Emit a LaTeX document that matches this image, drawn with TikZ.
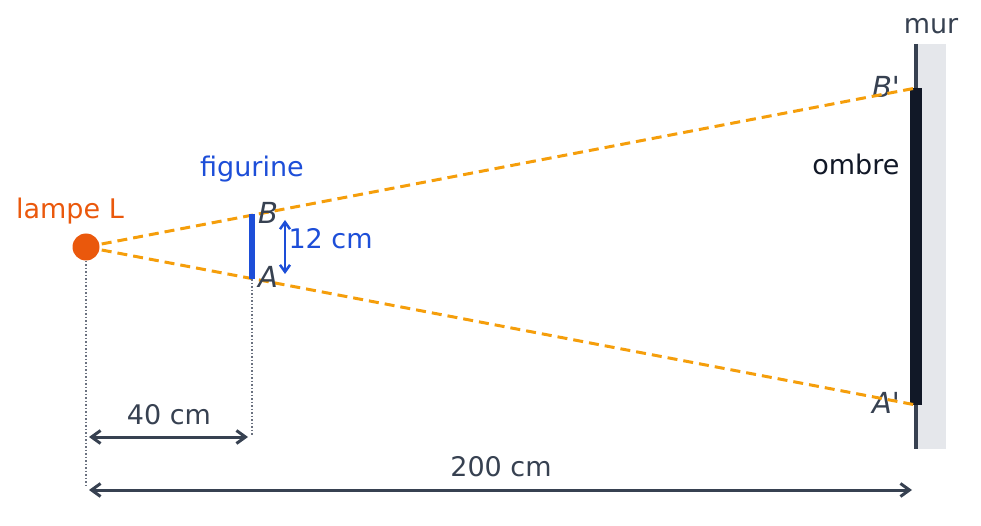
\documentclass[tikz,border=0pt]{standalone}
\usepackage{fontspec}
\setmainfont{DejaVu Sans}
\usetikzlibrary{arrows.meta,positioning}
\definecolor{lampcol}{HTML}{EA580C}
\definecolor{raycol}{HTML}{F59E0B}
\definecolor{figcol}{HTML}{1D4ED8}
\definecolor{inkcol}{HTML}{374151}
\definecolor{ombrecol}{HTML}{111827}
\definecolor{wallbg}{HTML}{E5E7EB}
\definecolor{dotcol}{HTML}{6B7280}
\tikzset{every node/.append style={font=\fontsize{27}{32}\selectfont}}
\tikzset{ptlab/.style={inkcol,font=\fontsize{29}{34}\selectfont\itshape}}
\tikzset{ray/.style={raycol,line width=3,dash pattern=on 10pt off 6pt}}
\tikzset{dimline/.style={inkcol,line width=3,{Straight Barb[length=9pt,width=13pt,line width=3pt]}-{Straight Barb[length=9pt,width=13pt,line width=3pt]}}}
\tikzset{guide/.style={dotcol,line width=1.2,dash pattern=on 1.5pt off 2pt}}

\begin{document}
\begin{tikzpicture}[x=1pt,y=-1pt]
        \useasboundingbox (0,0) rectangle (981,526);

        % mur
        \fill [wallbg] (918,44) rectangle (946,449);
        \coordinate (murtop) at (916,44);
        \coordinate (murbot) at (916,449);
        \draw [inkcol,line width=4] (murtop) -- (murbot);
        \node [inkcol] (mur) at (931,26) {mur};

        % ombre
        \coordinate (Bp) at (916,88);
        \coordinate (Ap) at (916,405);
        \fill [ombrecol] (910,88) rectangle (922,405);
        \node [ombrecol,anchor=east] (ombre) at (903,164) {ombre};
        \node [ptlab] (Bplab) at (886,87) {B\textquotesingle};
        \node [ptlab] (Aplab) at (886,403) {A\textquotesingle};

        % rayons
        \coordinate (L) at (86,247);
        \draw [ray] (L) -- (Bp);
        \draw [ray] (L) -- (Ap);

        % lampe
        \node [circle,fill=lampcol,minimum size=27,inner sep=0] (lamp) at (L) {};
        \node [lampcol] (lamplab) at (70,211) {lampe L};

        % figurine
        \coordinate (B) at (252,214);
        \coordinate (A) at (252,279);
        \draw [figcol,line width=6] (B) -- (A);
        \node [figcol] (figlab) at (252,169) {figurine};
        \node [ptlab] (Blab) at (268,213) {B};
        \node [ptlab] (Alab) at (268,277) {A};
        \coordinate (htop) at (285,220);
        \coordinate (hbot) at (285,274);
        \draw [figcol,line width=2.5,{Straight Barb[length=7pt,width=10pt,line width=2.5pt]}-{Straight Barb[length=7pt,width=10pt,line width=2.5pt]}] (htop) -- (hbot);
        \node [figcol,anchor=west] (hlab) at (285,239) {12 cm};

        % guides
        \coordinate (Lfoot) at (86,487);
        \coordinate (Afoot) at (252,435);
        \draw [guide] (lamp.south) -- (Lfoot);
        \draw [guide] (A) -- (Afoot);

        % cotes
        \coordinate (d1a) at (89,437);
        \coordinate (d1b) at (248,437);
        \draw [dimline] (d1a) -- (d1b);
        \node [inkcol] (d1lab) at (169,415) {40 cm};
        \coordinate (d2a) at (89,490);
        \coordinate (d2b) at (912,490);
        \draw [dimline] (d2a) -- (d2b);
        \node [inkcol] (d2lab) at (501,467) {200 cm};
\end{tikzpicture}
\end{document}
